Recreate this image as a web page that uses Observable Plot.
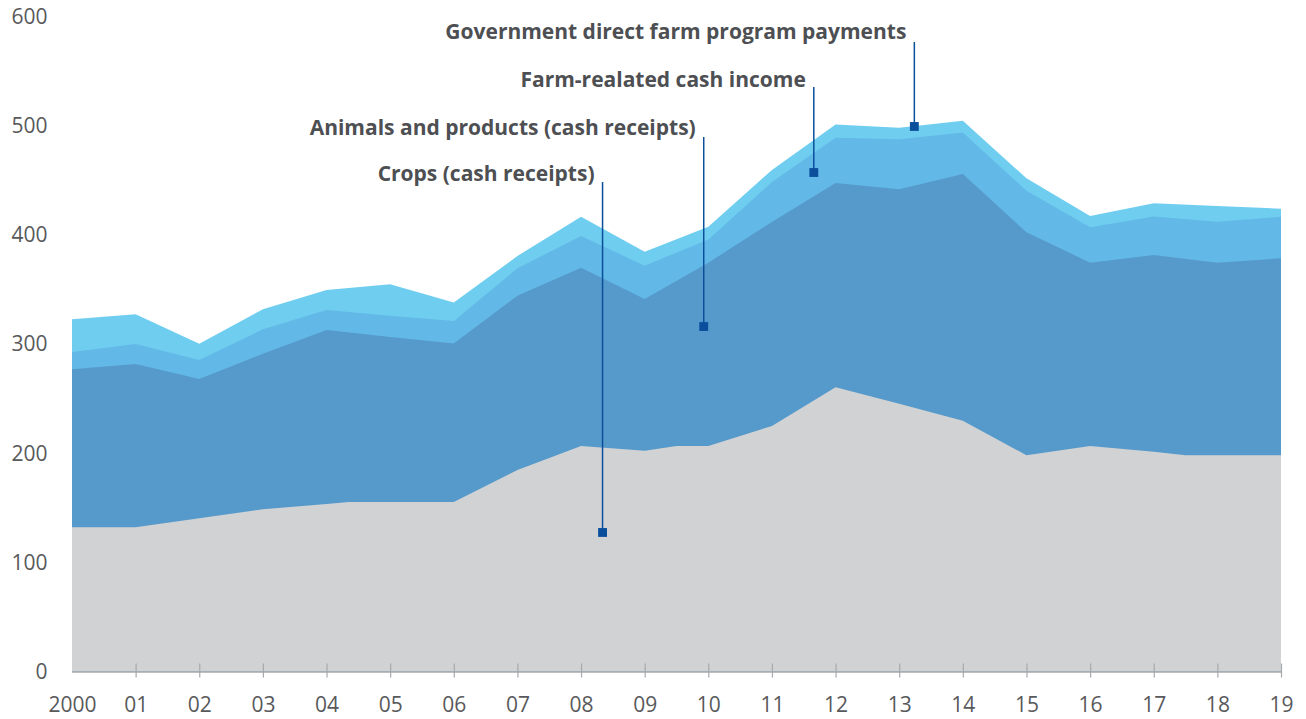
<!DOCTYPE html>
<html><head><meta charset="utf-8">
<script src="https://cdn.jsdelivr.net/npm/d3@7"></script>
<script src="https://cdn.jsdelivr.net/npm/@observablehq/plot@0.6"></script>
<style>
html,body{margin:0;padding:0;background:#fff;}
#chart svg{display:block;}
</style></head><body><div id="chart"></div>
<script>
// ---- data (billions) ----
const years = [2000,2001,2002,2003,2004,2005,2006,2007,2008,2009,2010,2011,2012,2013,2014,2015,2016,2017,2018,2019];
const tickLabels = ["2000","01","02","03","04","05","06","07","08","09","10","11","12","13","14","15","16","17","18","19"];
const yTicks = [0,100,200,300,400,500,600];

const cropYears = [2000,2001,2002,2003,2004,2004.35,2005,2006,2007,2008,2009,2009.5,2010,2011,2012,2013,2014,2015,2016,2017,2017.5,2018,2019];
const crops     = [132.2,132.2,140.4,148.7,153.6,155.4,155.4,155.4,184.7,206.7,202.4,206.7,206.7,225.1,260.5,245.4,229.9,198.2,206.7,201.4,198.2,198.2,198.2];

const animals     = [144.8,149.7,127.8,142.5,159.5,151.3,145.3,159.8,163.5,139.1,168.0,187.0,187.3,196.7,226.2,204.4,168.1,180.4,176.6,180.6];
const farmRelated = [15.9,18.3,17.4,22.5,18.3,19.5,20.6,25.1,29.1,30.5,21.3,36.7,41.6,45.9,38.0,38.2,32.4,35.2,37.6,38.1];
const government  = [30.0,27.3,14.9,18.4,18.3,28.8,17.0,11.3,17.6,12.9,11.7,11.0,12.1,10.4,10.7,11.3,10.4,12.2,14.4,7.4];

const seriesNames = ["Crops (cash receipts)","Animals and products (cash receipts)","Farm-realated cash income","Government direct farm program payments"];
const seriesColors = ["#d1d2d4","#569acb","#62b8e6","#6fcef0"];

// annotation anchors: marker (x, y), leader top, label height (data units)
const annotX      = [2008.33, 2009.92, 2011.65, 2013.23];
const annotY      = [127.9, 316.7, 457.9, 500.1];
const annotTop    = [448.7, 490.0, 535.9, 577.1];
const annotLabelY = [456.1, 498.3, 542.3, 586.3];

// ---- build stacked tops ----
const cropAt = yr => crops[cropYears.indexOf(yr)];
const cropRows = cropYears.map((x, i) => ({x, y: crops[i]}));
const animalRows = years.map((x, i) => ({x, y: cropAt(x) + animals[i]}));
const farmRows = years.map((x, i) => ({x, y: animalRows[i].y + farmRelated[i]}));
const govRows = years.map((x, i) => ({x, y: farmRows[i].y + government[i]}));
const annotations = seriesNames.map((label, i) => ({label, x: annotX[i], y: annotY[i], top: annotTop[i], ly: annotLabelY[i]}));

const axisColor = "#a7a9ac";
const textColor = "#58595b";
const labelColor = "#4d4f53";
const markColor = "#0b4f9c";

const chart = Plot.plot({
  width: 1306,
  height: 719,
  marginLeft: 72,
  marginRight: 25,
  marginTop: 17,
  marginBottom: 47.5,
  style: {fontFamily: "'Open Sans', sans-serif", fontSize: "21px", color: textColor, background: "#fff"},
  x: {type: "linear", domain: [2000, 2019], label: null},
  y: {domain: [0, 600], label: null},
  marks: [
    Plot.areaY(govRows, {x: "x", y: "y", fill: seriesColors[3]}),
    Plot.areaY(farmRows, {x: "x", y: "y", fill: seriesColors[2]}),
    Plot.areaY(animalRows, {x: "x", y: "y", fill: seriesColors[1]}),
    Plot.areaY(cropRows, {x: "x", y: "y", fill: seriesColors[0]}),
    Plot.ruleY([0], {stroke: axisColor, strokeWidth: 1.5}),
    Plot.ruleX(years.slice(1), {x: d => d, y1: 0, y2: 0, insetTop: -8, insetBottom: -6, stroke: axisColor, strokeWidth: 1.2}),
    Plot.axisX(years, {tickSize: 0, tickPadding: 25, tickFormat: d => tickLabels[years.indexOf(d)], fill: textColor, fontSize: 21, letterSpacing: "-0.3px"}),
    Plot.axisY(yTicks, {tickSize: 0, tickPadding: 25, fill: textColor, fontSize: 21, letterSpacing: "-0.3px"}),
    Plot.ruleX(annotations, {x: "x", y1: "y", y2: "top", stroke: markColor, strokeWidth: 1.5}),
    Plot.dot(annotations, {x: "x", y: "y", symbol: "square", r: 5, fill: markColor, stroke: null}),
    Plot.text(annotations, {x: "x", y: "ly", text: "label", textAnchor: "end", dx: -8, fontSize: 21, fontWeight: 700, fill: labelColor, letterSpacing: "-0.25px"})
  ]
});
document.getElementById("chart").appendChild(chart);
</script>
</body></html>
